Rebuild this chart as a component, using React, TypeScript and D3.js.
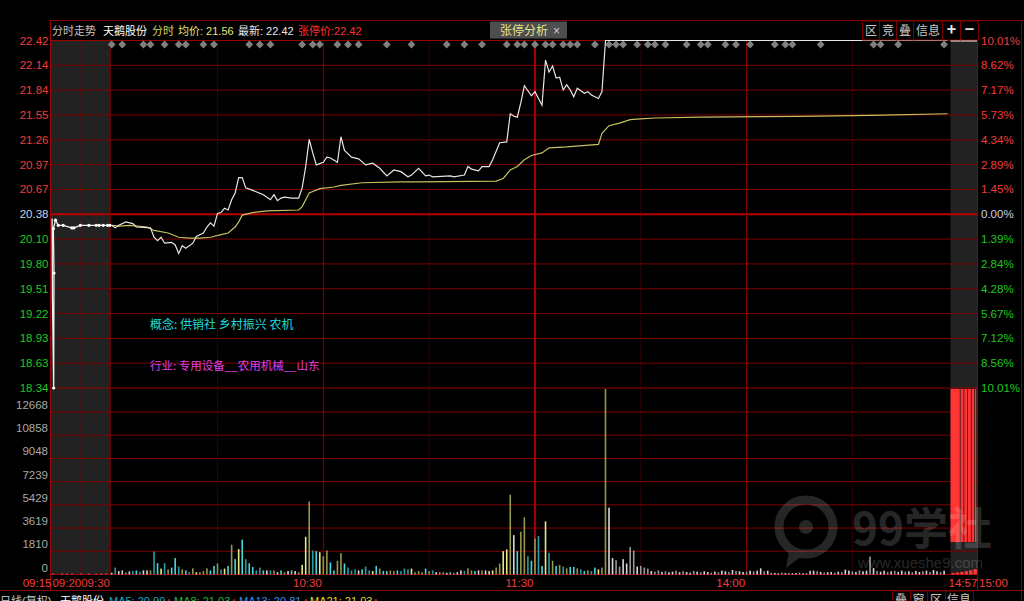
import React from 'react';
import * as d3 from 'd3';

// ---------------- data ----------------
const limitUp = 22.42;
const limitDown = 18.34;
const priceTickLabels = ['22.42','22.14','21.84','21.55','21.26','20.97','20.67','20.38','20.10','19.80','19.51','19.22','18.93','18.63','18.34'];
const pctTickLabels = ['10.01%','8.62%','7.17%','5.73%','4.34%','2.89%','1.45%','0.00%','1.39%','2.84%','4.28%','5.67%','7.12%','8.56%','10.01%'];
const volTickValues = [12668, 10858, 9048, 7239, 5429, 3619, 1810, 0];
const tradeTimeLabels = [{ label: '10:30', m: 60 }, { label: '11:30', m: 120 }, { label: '14:00', m: 180 }];
const solidMinutes = [60, 120, 180];
const dottedMinutes = [30, 90, 150, 210];
const preTimeLabels = [{ label: '09:15', t: 0 }, { label: '09:20', t: 5 }, { label: '09:30', t: 15 }];
const closeTimeLabels = ['14:57', '15:00'];

// minute index since 09:30 (lunch removed), price
const priceSeries: [number, number][] = [
  [0,20.25],[1,20.22],[2,20.25],[4,20.29],[6,20.27],[7,20.23],[11,20.22],[12,20.11],[13,20.07],[14,20.11],
  [15,20.04],[17,20.05],[18,20.02],[19,19.92],[20,20.01],[21,19.98],[23,20.04],[24,20.12],[26,20.16],[27,20.23],
  [28,20.28],[29,20.24],[30,20.39],[31,20.40],[32,20.45],[33,20.43],[34,20.55],[35,20.63],[36,20.81],[37,20.81],
  [38,20.69],[40,20.66],[43,20.61],[45,20.55],[46,20.61],[47,20.54],[48,20.57],[49,20.58],[51,20.57],[53,20.57],
  [54,20.69],[55,20.94],[56,21.26],[57,21.10],[58,20.96],[60,20.99],[61,21.05],[62,21.04],[64,20.99],[65,21.29],
  [66,21.13],[68,21.05],[70,21.03],[72,20.96],[74,20.98],[76,20.92],[78,20.83],[80,20.90],[82,20.88],[84,20.82],
  [85,20.84],[87,20.92],[89,20.83],[90,20.84],[91,20.82],[96,20.83],[97,20.82],[100,20.84],[101,20.94],[102,20.91],
  [104,20.89],[105,20.94],[107,20.94],[108,21.02],[110,21.22],[112,21.23],[113,21.56],[114,21.53],[115,21.52],[116,21.69],
  [117,21.89],[119,21.77],[120,21.82],[121,21.74],[122,21.66],[123,22.19],[124,22.05],[125,22.12],[126,21.98],[127,21.99],
  [128,21.84],[129,21.90],[130,21.84],[131,21.76],[132,21.86],[134,21.80],[135,21.82],[136,21.78],[138,21.74],[139,21.82],
  [140,22.42],[237,22.42]
];
const avgSeries: [number, number][] = [
  [0,20.25],[2,20.24],[5,20.25],[10,20.23],[12,20.19],[16,20.16],[19,20.11],[22,20.10],[25,20.10],[28,20.11],
  [31,20.14],[33,20.16],[35,20.23],[36,20.29],[37,20.37],[40,20.40],[44,20.42],[53,20.43],[54,20.47],[56,20.63],
  [59,20.68],[63,20.70],[65,20.72],[71,20.75],[82,20.76],[87,20.76],[109,20.77],[111,20.80],[113,20.90],[115,20.94],
  [117,21.02],[119,21.07],[122,21.10],[124,21.16],[129,21.17],[138,21.20],[139,21.33],[141,21.42],[144,21.45],[147,21.49],
  [150,21.50],[154,21.51],[167,21.52],[195,21.53],[215,21.54],[237,21.56]
];
// minutes since 09:15, price
const preSeries: [number, number][] = [
  [0.35,20.33],[0.4,19.40],[0.6,18.34],[0.65,19.69],[0.55,20.21],[0.9,20.31],[1.35,20.25],[2.15,20.25],[3.55,20.22],
  [3.9,20.22],[4.95,20.25],[7.8,20.25],[10.3,20.25],[11.3,20.25],[12.7,20.25],[14.2,20.25],[15,20.25]
];
const preVolTimes = [0.5, 2, 2.8, 3.6, 5.2, 7.9, 10.3, 12, 13.7];
const preVolumes = [80, 80, 80, 80, 80, 80, 80, 80, 80];

const markerMinutes = [0,3,9,11,15,19,21,26,29,39,42,45,54,57,59,64,67,70,78,85,95,100,105,112,115,117,120,123,125,128,
  130,132,137,141,143,145,149,152,154,157,163,167,169,174,177,181,188,191,193,201,216,218,223,236];

const volumes = [
  135,540,270,320,160,240,270,320,220,320,320,320,
  1790,880,460,880,400,540,1280,620,400,320,180,480,
  180,180,270,480,320,670,860,400,460,670,2320,1200,
  1980,2720,1200,880,590,320,540,320,320,320,320,180,
  320,180,270,320,270,180,750,2940,5690,1870,1820,1740,
  1420,1870,940,320,1070,1660,860,540,320,400,320,400,
  620,320,270,670,460,270,270,320,270,320,270,460,
  400,460,180,270,180,460,270,320,180,180,180,130,
  180,130,180,320,270,480,320,270,320,320,320,270,
  320,540,860,1820,1950,6220,3070,1820,3340,4460,1420,1070,
  2800,2990,670,4140,1680,1070,670,750,620,480,590,590,
  480,400,270,320,270,540,400,540,14870,5210,1280,1120,
  620,1200,860,2140,1870,620,670,540,460,270,220,320,
  200,250,180,220,300,180,250,200,150,280,220,180,
  250,200,150,220,180,300,250,200,350,280,250,200,
  220,300,250,300,480,250,300,150,120,100,150,120,
  130,100,120,150,100,120,280,300,250,200,150,180,
  200,150,220,180,380,300,250,200,320,250,300,1400,
  500,280,220,300,200,250,280,200,300,220,250,180,
  280,200,250,300,200,350,250,200,300
];
const volColorCodes =
  'wtwwowtctwwo' + 'tcytocctocto' + 'yoooccotycoc' + 'yctccttcwtow' + 'cowcwoyyotcy' +
  'ooccooctttwc' + 'ttycoccooctt' + 'tyooocotwoow' + 'cowwtoocwoww' + 'yooyyowcootc' +
  'otcytocotocc' + 'otcotcyoowwg' + 'gwwggwgggwgg' +
  'wgwwgwgwwgwgwwgwgwwgwgwwgwgwwgwgwwgwgwwgwgwwgwgwwgwgwwgwgwwgwgwwgwgwwgwgwwgwgwwg';
const auctionSlotEdges = [0, 0.38, 0.52, 0.66, 0.8, 0.92, 1];
const auctionBlockVolume = 2530;
const auctionVolumes = [120, 160, 200, 260, 330, 420];

const conceptText = '概念: 供销社 乡村振兴 农机';
const industryText = '行业: 专用设备__农用机械__山东';

// ---------------- component ----------------
const NUM = "'Liberation Sans', Arial, 'Noto Sans CJK SC', sans-serif";
const CJK = "'Noto Sans CJK SC', 'Liberation Sans', sans-serif";
const colorMap: Record<string, string> = {
  c: '#46d6de', t: '#2c9ca0', y: '#e8e886', o: '#96964e', w: '#d8d8d8', g: '#9a9a9a'
};
const GRID = '#7d0000';
const RED = '#f23c3c';
const GREEN = '#1ec81e';

export default function App() {
  const W = 1024, H = 601;
  const plotL = 50, plotR = 977;
  const priceTop = 40.5, priceBot = 388, volBot = 574.5;
  const xT = d3.scaleLinear().domain([0, 240]).range([111.7, 958.2]);
  const xPre = d3.scaleLinear().domain([0, 5, 15]).range([plotL, 80.7, 110]);
  const aucL = 950.5;
  const xAuc = d3.scaleLinear().domain([0, 1]).range([aucL, plotR]);
  const yP = d3.scaleLinear().domain([limitDown, limitUp]).range([priceBot, priceTop]);
  const yV = d3.scaleLinear().domain([0, 12668]).range([volBot, 412]);
  const n = priceTickLabels.length;
  const gridLevels = d3.range(n).map(k => limitUp - (k * (limitUp - limitDown)) / (n - 1));

  const tradeLine = d3.line<[number, number]>().x(d => xT(d[0])).y(d => yP(d[1]));
  const preLine = d3.line<[number, number]>().x(d => xPre(d[0])).y(d => yP(d[1]));

  const labelColor = (k: number) => (k < 7 ? RED : k === 7 ? '#c8d2e6' : GREEN);

  const buttons = [
    { t: '区', x0: 862, x1: 879 }, { t: '竞', x0: 879, x1: 896 }, { t: '叠', x0: 896, x1: 913 },
    { t: '信息', x0: 913, x1: 942 }, { t: '+', x0: 942, x1: 960 }, { t: '−', x0: 960, x1: 978 }
  ];
  const bottomButtons = [
    { t: '叠', x0: 892, x1: 910 }, { t: '窗', x0: 910, x1: 927 }, { t: '区', x0: 927, x1: 945 }, { t: '信息', x0: 945, x1: 973 }
  ];

  return (
    <div style={{ position: 'absolute', left: 0, top: 0, width: W, height: H, background: '#000', overflow: 'hidden' }}>
      <svg width={W} height={H} style={{ display: 'block' }}>
        <rect x={0} y={0} width={W} height={H} fill="#000" />
        {/* grey auction regions */}
        <rect x={plotL} y={priceTop} width={110 - plotL} height={volBot - priceTop} fill="#222" />
        <rect x={aucL} y={priceTop} width={plotR - aucL} height={volBot - priceTop} fill="#222" />

        {/* price grid */}
        {gridLevels.map((v, k) => (
          <line key={'pg' + k} x1={plotL} x2={plotR} y1={yP(v)} y2={yP(v)}
            stroke={k === 7 ? '#b80000' : k === 0 || k === n - 1 ? '#9a0000' : GRID}
            strokeWidth={k === 7 ? 2 : 1} />
        ))}
        {/* volume grid */}
        {volTickValues.map(v => (
          <line key={'vg' + v} x1={plotL} x2={plotR} y1={yV(v)} y2={yV(v)} stroke={v === 0 ? '#9a0000' : GRID} strokeWidth={1} />
        ))}
        {/* vertical grid */}
        {solidMinutes.map(m => (
          <line key={'sv' + m} x1={xT(m)} x2={xT(m)} y1={priceTop} y2={volBot}
            stroke={m === 120 ? '#a80000' : '#8a0000'} strokeWidth={m === 120 ? 2 : 1} />
        ))}
        {dottedMinutes.map(m => (
          <line key={'dv' + m} x1={xT(m)} x2={xT(m)} y1={priceTop} y2={volBot} stroke="#8a0000" strokeDasharray="1,2" />
        ))}
        <line x1={xPre(5)} x2={xPre(5)} y1={priceTop} y2={volBot} stroke="#8a0000" strokeDasharray="1,2" />

        {/* borders */}
        <line x1={plotL} x2={W} y1={20.5} y2={20.5} stroke="#8a0000" />
        <line x1={plotL + 0.5} x2={plotL + 0.5} y1={20.5} y2={590} stroke="#9a0000" />
        <line x1={plotR + 0.5} x2={plotR + 0.5} y1={20.5} y2={590} stroke="#9a0000" />
        <line x1={110.5} x2={110.5} y1={priceTop} y2={volBot} stroke="#6a0000" />
        <line x1={1021.5} x2={1021.5} y1={20.5} y2={601} stroke="#7a0000" />
        <line x1={0} x2={W} y1={590.5} y2={590.5} stroke="#8a0000" />

        {/* volume bars */}
        {volumes.map((v, i) => {
          const top = Math.max(yV(v), priceBot + 1);
          return (
            <rect key={'vb' + i} x={xT(i) - 0.8} y={top} width={1.6} height={volBot - top}
              fill={colorMap[volColorCodes[i] || 'w']} />
          );
        })}
        {preVolTimes.map((t, i) => (
          <rect key={'pv' + i} x={xPre(t) - 1} y={yV(preVolumes[i])} width={2} height={volBot - yV(preVolumes[i])} fill={RED} />
        ))}
        {/* closing call auction */}
        {auctionSlotEdges.slice(0, -1).map((e, i) => (
          <rect key={'ab' + i} x={xAuc(e)} y={priceBot + 1} width={xAuc(auctionSlotEdges[i + 1]) - xAuc(e) - 0.8}
            height={yV(auctionBlockVolume) - priceBot - 1} fill="#ff3434" />
        ))}
        {auctionVolumes.map((v, i) => (
          <rect key={'av' + i} x={xAuc((i + 0.2) / auctionVolumes.length)} y={yV(v)}
            width={(plotR - aucL) / auctionVolumes.length - 1} height={volBot - yV(v)} fill="#ff3434" />
        ))}

        {/* markers */}
        {markerMinutes.map((m, i) => {
          const cx = xT(m), cy = 44.5, r = 3.9;
          return <path key={'mk' + i} d={`M${cx},${cy - r}L${cx + r},${cy}L${cx},${cy + r}L${cx - r},${cy}Z`} fill="#808080" />;
        })}

        {/* lines */}
        <path d={tradeLine(avgSeries) || ''} fill="none" stroke="#c6c060" strokeWidth={1.2} />
        <path d={tradeLine(priceSeries) || ''} fill="none" stroke="#e6e6e6" strokeWidth={1.2} />
        <path d={preLine(preSeries) || ''} fill="none" stroke="#f0f0f0" strokeWidth={1.3} />
        {preSeries.slice(2).map((d, i) => (
          <circle key={'pd' + i} cx={xPre(d[0])} cy={yP(d[1])} r={1.6} fill="#fff" />
        ))}
        <line x1={aucL} x2={plotR} y1={yP(limitUp)} y2={yP(limitUp)} stroke="#f0f0f0" strokeWidth={2} />

        {/* left price labels */}
        {gridLevels.map((v, k) => (
          <text key={'pl' + k} x={48.5} y={yP(v) + 4} textAnchor="end" fontFamily={NUM} fontSize={11.5} fill={labelColor(k)}>
            {priceTickLabels[k]}
          </text>
        ))}
        {gridLevels.map((v, k) => (
          <text key={'rl' + k} x={981} y={yP(v) + 4} textAnchor="start" fontFamily={NUM} fontSize={11.5} fill={labelColor(k)}>
            {pctTickLabels[k]}
          </text>
        ))}
        {volTickValues.map(v => (
          <text key={'vl' + v} x={48} y={yV(v) - 3} textAnchor="end" fontFamily={NUM} fontSize={11.5} fill="#a8a8a8">{v}</text>
        ))}

        {/* time labels */}
        {preTimeLabels.map(p => (
          <text key={'pt' + p.label} x={p.t === 0 ? 51.5 : xPre(p.t) + (p.t === 15 ? 0 : 0.5)} y={587} textAnchor="end"
            fontFamily={NUM} fontSize={11.5} fill={RED}>{p.label}</text>
        ))}
        {tradeTimeLabels.map(p => (
          <text key={'tt' + p.label} x={xT(p.m) - 1.5} y={587} textAnchor="end" fontFamily={NUM} fontSize={11.5} fill={RED}>{p.label}</text>
        ))}
        <text x={aucL - 2} y={587} fontFamily={NUM} fontSize={11.5} fill={RED}>{closeTimeLabels[0]}</text>
        <text x={plotR + 2} y={587} fontFamily={NUM} fontSize={11.5} fill={RED}>{closeTimeLabels[1]}</text>

        {/* header */}
        <g fontFamily={NUM} fontSize={11}>
          <text x={52} y={35} fill="#c4c4c4">分时走势</text>
          <text x={103} y={35} fill="#ffffff">天鹅股份</text>
          <text x={152} y={35} fill="#d2d264">分时</text>
          <text x={178} y={35} fill="#e6e27a">均价: 21.56</text>
          <text x={238} y={35} fill="#e8e8f0">最新: 22.42</text>
          <text x={298} y={35} fill="#ff3030">张停价:22.42</text>
        </g>
        <rect x={490} y={21.5} width={77} height={17} fill="#4e4e4e" />
        <text x={500} y={34.5} fontFamily={CJK} fontSize={12} fill="#e4e48a">张停分析</text>
        <text x={553} y={34.5} fontFamily={NUM} fontSize={12} fill="#cfcfcf">×</text>
        {buttons.map(b => (
          <g key={'bt' + b.t}>
            <rect x={b.x0 + 0.5} y={21} width={b.x1 - b.x0} height={19} fill="#000" stroke="#7a0000" />
            <text x={(b.x0 + b.x1) / 2 + 0.5} y={35} textAnchor="middle" fontFamily={CJK}
              fontSize={b.t === '+' || b.t === '−' ? 16 : 12} fontWeight={b.t === '+' || b.t === '−' ? 700 : 400}
              fill={b.t === '+' || b.t === '−' ? '#e8e8e8' : '#c8c8c8'}>{b.t}</text>
          </g>
        ))}

        {/* annotations */}
        <text x={150} y={329} fontFamily={CJK} fontSize={12} fill="#22dada">{conceptText}</text>
        <text x={150} y={370} fontFamily={CJK} fontSize={11.5} fill="#e040e0">{industryText}</text>

        {/* bottom bar */}
        <g fontFamily={NUM} fontSize={11}>
          <text x={0} y={605} fill="#c8c8c8">日线(复权)</text>
          <text x={60} y={605} fill="#ffffff">天鹅股份</text>
          <text x={109} y={605} fill="#18a8c0">MA5: 20.99</text>
          <text x={166} y={605} fill={RED}>↑</text>
          <text x={174} y={605} fill="#20b43c">MA8: 21.03</text>
          <text x={231} y={605} fill={RED}>↑</text>
          <text x={239} y={605} fill="#3c8ce0">MA13: 20.81</text>
          <text x={303} y={605} fill={RED}>↑</text>
          <text x={310} y={605} fill="#dcdc1e">MA21: 21.03</text>
          <text x={373} y={605} fill={RED}>↑</text>
        </g>
        {bottomButtons.map(b => (
          <g key={'bb' + b.t}>
            <rect x={b.x0 + 0.5} y={591} width={b.x1 - b.x0} height={14} fill="#000" stroke="#7a0000" />
            <text x={(b.x0 + b.x1) / 2} y={604} textAnchor="middle" fontFamily={CJK} fontSize={12} fill="#c8c8c8">{b.t}</text>
          </g>
        ))}

        {/* watermark */}
        <g opacity={0.15} fill="#ffffff">
          <circle cx={806} cy={527} r={27} fill="none" stroke="#ffffff" strokeWidth={9} />
          <path d="M790,546 L786,568 L806,553 Z" />
          <circle cx={806} cy={527} r={7} />
          <text x={852} y={545} fontFamily={CJK} fontSize={44} fontWeight={700}>99学社</text>
          <text x={858} y={568} fontFamily={NUM} fontSize={15}>www.xueshe9.com</text>
        </g>
      </svg>
    </div>
  );
}
